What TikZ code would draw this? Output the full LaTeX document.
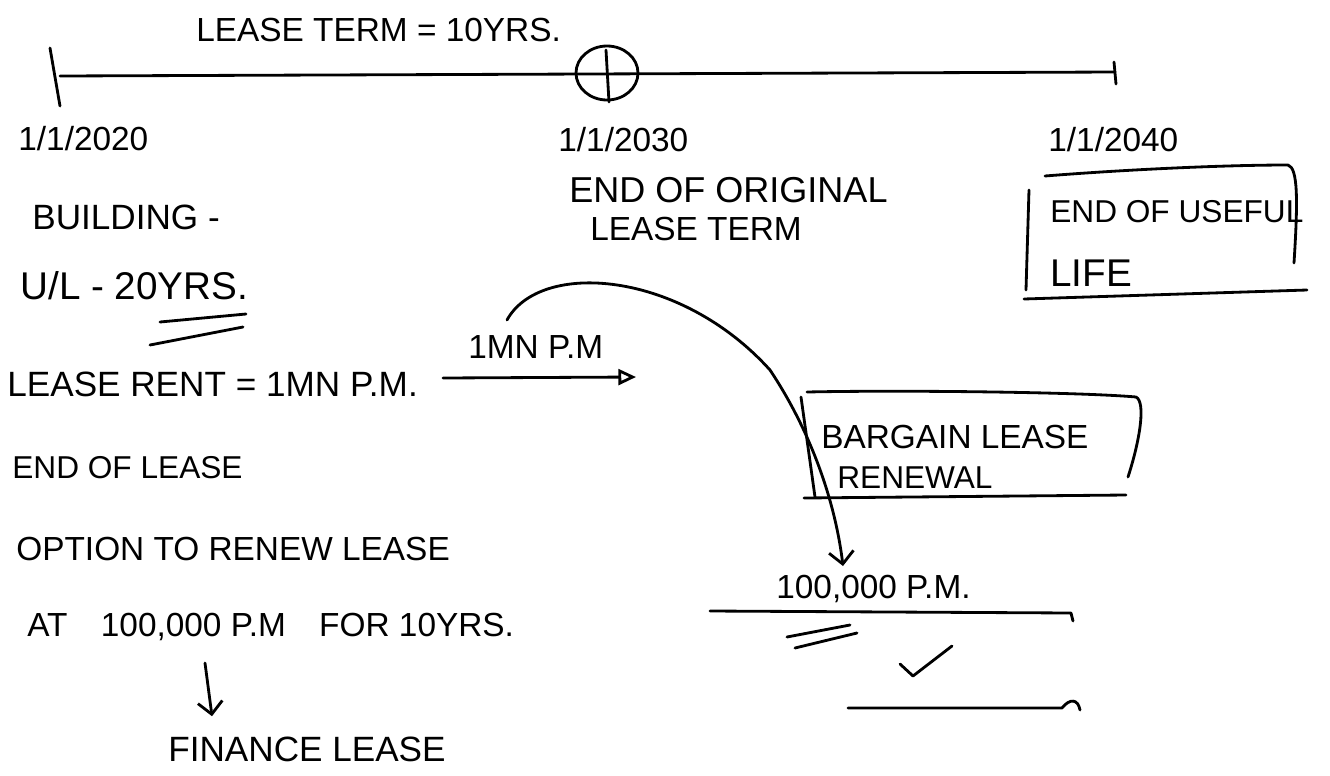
\documentclass[tikz,border=0pt]{standalone}
\usepackage{fontspec}
\setmainfont{Liberation Sans}
\usetikzlibrary{positioning, arrows.meta, calc}

\begin{document}
\begin{tikzpicture}[
    x=0.02cm, y=-0.02cm,
    hand/.style={font=\fontsize{19}{22}\selectfont, anchor=west, inner sep=0pt},
    pen/.style={line width=1.6pt, line cap=round, line join=round},
    arr/.style={pen, -{Straight Barb[length=7pt]}}
]
    \useasboundingbox (0,0) rectangle (1330,775);

    % timeline
    \node[hand] (term) at (196,30) {LEASE TERM = 10YRS.};
    \coordinate (t0) at (60,76);
    \coordinate (t1) at (1115,72);
    \coordinate (mid) at (607,73);
    \draw[pen] (t0) -- (t1);
    \draw[pen] (50,48) -- (60,106);
    \draw[pen] (1114,62) -- (1116,84);
    \draw[pen] (mid) ellipse (31 and 27);
    \draw[pen] (606,50) -- (609,102);

    % dates
    \node[hand] (d20) at (18,139) {1/1/2020};
    \node[hand] (d30) at (558,140) {1/1/2030};
    \node[hand] (d40) at (1048,140) {1/1/2040};
    \node[hand, font=\fontsize{20.5}{24}\selectfont] (orig) at (569,190) {END OF ORIGINAL};
    \node[hand] (origb) at (590,229) {LEASE TERM};
    \node[hand, font=\fontsize{18}{22}\selectfont] (useful) at (1050,212) {END OF USEFUL};
    \node[hand, font=\fontsize{22}{24}\selectfont] (life) at (1050,273) {LIFE};
    \draw[pen] (1045,176) .. controls (1120,170) and (1220,165) .. (1288,165)
        .. controls (1298,168) and (1298,200) .. (1294,263);
    \draw[pen] (1029,190) -- (1026,290);
    \draw[pen] (1024,299) -- (1307,290);

    % left notes
    \node[hand, font=\fontsize{20}{24}\selectfont] (bldg) at (32,217) {BUILDING -};
    \node[hand, font=\fontsize{22}{24}\selectfont] (ul) at (20,286) {U/L - 20YRS.};
    \draw[pen] (160,322) -- (246,314);
    \draw[pen] (150,345) -- (243,327);
    \node[hand, font=\fontsize{20}{22}\selectfont] (rent) at (7,384) {LEASE RENT = 1MN P.M.};
    \node[hand, font=\fontsize{18}{22}\selectfont] (eol) at (12,468) {END OF LEASE};
    \node[hand] (opt) at (16,549) {OPTION TO RENEW LEASE};
    \node[hand] (at) at (27,627) {AT\quad 100,000 P.M\quad FOR 10YRS.};
    \node[hand, font=\fontsize{20}{24}\selectfont] (fin) at (168,749) {FINANCE LEASE};
    \coordinate (dn) at (205,663);
    \draw[arr] (dn) -- ($(fin.north west)+(44,-20)$);

    % 1mn arrow
    \coordinate (a0) at (443,378);
    \coordinate (a1) at (636,377);
    \draw[pen, -{Triangle[open, length=10pt, width=9pt]}] (a0) -- (a1);
    \node[hand] (mn) at (468,347) {1MN P.M};

    % bargain box
    \node[hand] (barg) at (821,437) {BARGAIN LEASE};
    \node[hand, font=\fontsize{18}{22}\selectfont] (renew) at (837,478) {RENEWAL};
    \draw[pen] (807,392) .. controls (900,390) and (1080,392) .. (1136,397)
        .. controls (1146,402) and (1140,440) .. (1128,477);
    \draw[pen] (801,397) -- (815,497);
    \draw[pen] (804,498) -- (1126,495);

    % renewal rent
    \node[hand] (hund) at (776,589) {100,000 P.M.};
    \coordinate (c0) at (507,320);
    \draw[arr] (c0) .. controls (540,260) and (680,270) .. (770,370)
        .. controls (810,430) and (835,500) .. (843,566);
    \draw[pen] (710,611) -- (1071,613) -- (1073,621);
    \draw[pen] (787,637) -- (850,625);
    \draw[pen] (795,648) -- (857,633);
    \draw[pen] (900,664) -- (913,676) -- (952,646);
    \draw[pen] (848,708) -- (1062,708) .. controls (1070,698) and (1078,699) .. (1080,710);
\end{tikzpicture}
\end{document}
